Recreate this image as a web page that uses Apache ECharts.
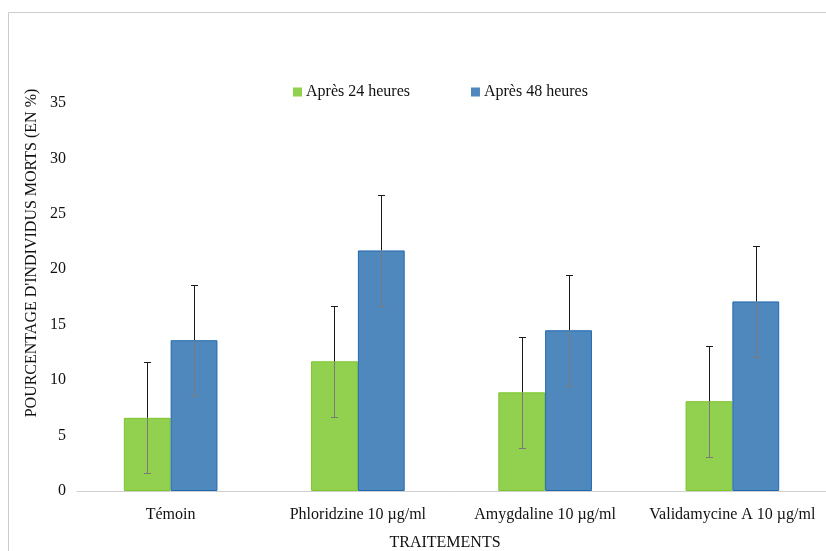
<!DOCTYPE html>
<html><head><meta charset="utf-8">
<script src="https://cdn.jsdelivr.net/npm/echarts@6/dist/echarts.min.js"></script>
<style>html,body{margin:0;padding:0;background:#fff}#c{width:826px;height:551px}</style>
</head><body><div id="c"></div>
<script>
const categories = ['Témoin', 'Phloridzine 10 µg/ml', 'Amygdaline 10 µg/ml', 'Validamycine A 10 µg/ml'];
const seriesNames = ['Après 24 heures', 'Après 48 heures'];
const after24 = [6.6, 11.7, 8.9, 8.1];
const after48 = [13.6, 21.7, 14.5, 17.1];
const err24 = [5, 5, 5, 5];
const err48 = [5, 5, 5, 5];
const yTicks = { min: 0, max: 35, interval: 5 };

const FONT = '"Liberation Serif", "DejaVu Serif", serif';
const errData = [];
after24.forEach((v, i) => errData.push([i, v, err24[i], 0]));
after48.forEach((v, i) => errData.push([i, v, err48[i], 1]));

function renderErr(params, api) {
  const i = api.value(0), v = api.value(1), e = api.value(2), s = api.value(3);
  const c = api.coord([i, v]);
  const bw = api.size([1, 0])[0] * 0.25;
  const x = Math.round(c[0] + (s === 0 ? -bw / 2 : bw / 2)) + 0.5;
  const yTop = Math.round(api.coord([i, v + e])[1]) + 0.5;
  const yBot = Math.round(api.coord([i, v - e])[1]) + 0.5;
  const yV = c[1];
  const cap = 3.5;
  const dark = '#1a1a1a', light = '#7a7a7a';
  return {
    type: 'group',
    children: [
      { type: 'line', shape: { x1: x, y1: yTop, x2: x, y2: yV }, style: { stroke: dark, lineWidth: 1 } },
      { type: 'line', shape: { x1: x, y1: yV, x2: x, y2: yBot }, style: { stroke: light, lineWidth: 1 } },
      { type: 'line', shape: { x1: x - cap, y1: yTop, x2: x + cap, y2: yTop }, style: { stroke: dark, lineWidth: 1 } },
      { type: 'line', shape: { x1: x - cap, y1: yBot, x2: x + cap, y2: yBot }, style: { stroke: light, lineWidth: 1 } }
    ]
  };
}

const chart = echarts.init(document.getElementById('c'));
chart.setOption({
  animation: false,
  backgroundColor: '#fff',
  textStyle: { fontFamily: FONT },
  legend: {
    data: seriesNames,
    left: 288, top: 79,
    icon: 'rect', itemWidth: 9, itemHeight: 9, itemGap: 61,
    itemStyle: { borderWidth: 0 },
    textStyle: { fontFamily: FONT, fontSize: 16, color: '#111', padding: [0, 0, 0, -1] }
  },
  grid: { left: 77, right: 0, top: 103, bottom: 60, containLabel: false },
  xAxis: {
    type: 'category', data: categories,
    axisLine: { lineStyle: { color: '#d0d0d0', width: 1 } },
    axisTick: { show: false },
    axisLabel: { fontFamily: FONT, fontSize: 16, color: '#111', margin: 16, interval: 0 }
  },
  yAxis: {
    type: 'value', min: yTicks.min, max: yTicks.max, interval: yTicks.interval,
    splitLine: { show: false }, axisLine: { show: false }, axisTick: { show: false },
    axisLabel: { fontFamily: FONT, fontSize: 16, color: '#111', margin: 11 }
  },
  series: [
    { name: seriesNames[0], type: 'bar', data: after24, barWidth: '25%', barGap: '0%',
      itemStyle: { color: '#92D050', borderColor: '#7CC52A', borderWidth: 1 } },
    { name: seriesNames[1], type: 'bar', data: after48, barWidth: '25%', barGap: '0%',
      itemStyle: { color: '#4F88BC', borderColor: '#2068B0', borderWidth: 1 } },
    { type: 'custom', renderItem: renderErr, data: errData, z: 10, silent: true,
      encode: { x: 0, y: 1 } }
  ],
  graphic: [
    { type: 'rect', shape: { x: 8.5, y: 12.5, width: 830, height: 560 }, style: { fill: 'none', stroke: '#cccccc', lineWidth: 1 }, z: -1 },
    { type: 'text', x: 32, y: 253, rotation: Math.PI / 2,
      style: { text: "POURCENTAGE D'INDIVIDUS MORTS (EN %)", font: '16px ' + FONT, fill: '#111', align: 'center', verticalAlign: 'middle' } },
    { type: 'text', x: 445, y: 543,
      style: { text: 'TRAITEMENTS', font: '16px ' + FONT, fill: '#111', align: 'center', verticalAlign: 'middle' } }
  ]
});
</script></body></html>
